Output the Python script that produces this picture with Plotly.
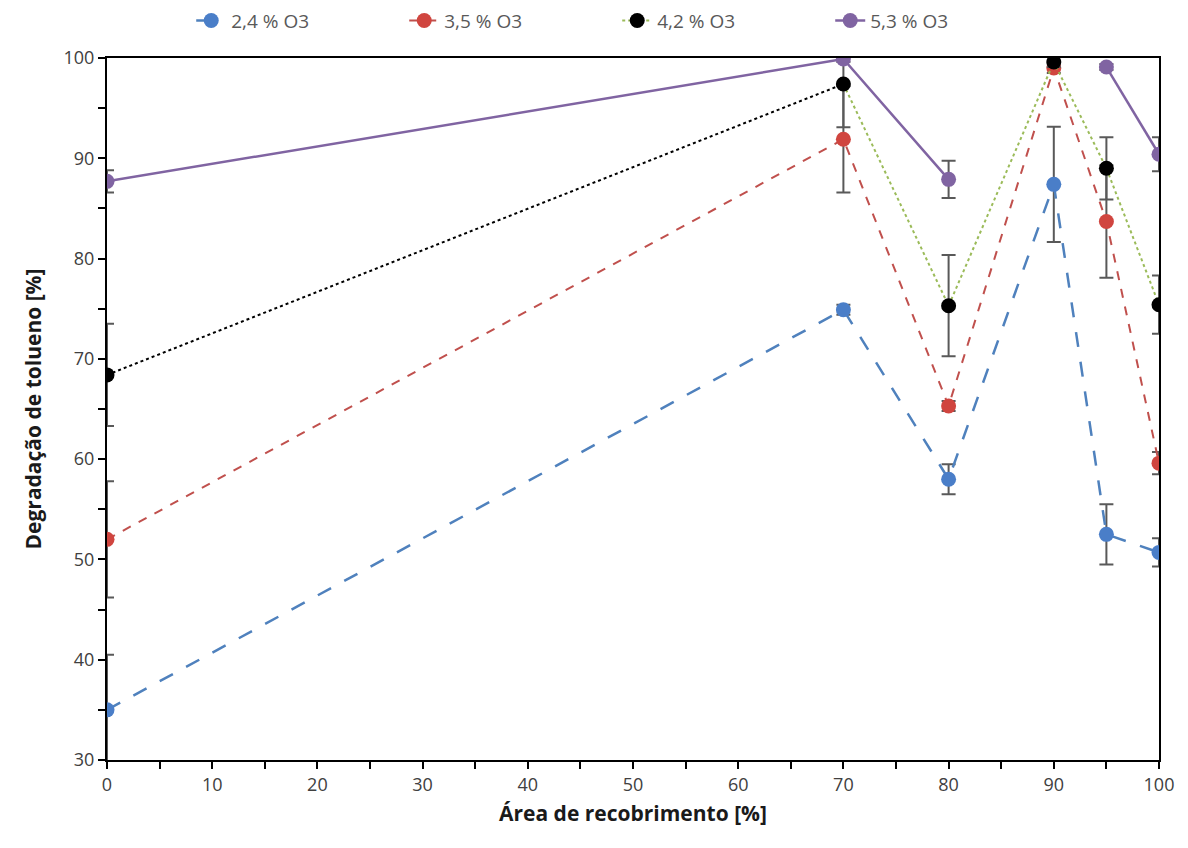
import plotly.graph_objects as go

area = [0, 70, 80, 90, 95, 100]

o24 = [35.0, 74.9, 58.0, 87.4, 52.5, 50.7]
o24_err = [5.5, 0.5, 1.5, 5.75, 3.0, 1.4]

o35 = [52.0, 91.9, 65.3, 99.0, 83.7, 59.6]
o35_err = [5.8, 5.3, 0.5, 0.5, 5.6, 1.1]

o42 = [68.4, 97.4, 75.3, 99.6, 89.0, 75.4]
o42_err = [5.1, 4.3, 5.05, 0.5, 3.1, 2.9]

o53 = [87.7, 99.9, 87.9, None, 99.1, 90.4]
o53_err = [1.1, 0.3, 1.85, 0, 0.3, 1.7]

names = ["2,4 % O3", "3,5 % O3", "4,2 % O3", "5,3 % O3"]
xticks = [0, 10, 20, 30, 40, 50, 60, 70, 80, 90, 100]
yticks = [30, 40, 50, 60, 70, 80, 90, 100]

ERR = "#595959"
MS = 15
FONT = "Open Sans, sans-serif"


def err(arr):
    return dict(type="data", array=arr, visible=True, color=ERR, thickness=2, width=7)


fig = go.Figure()

fig.add_trace(go.Scatter(
    x=area, y=o24, name=names[0], mode="lines+markers",
    line=dict(color="#4F81BD", width=2.5, dash="longdash"),
    marker=dict(color="#4A7EC8", size=MS), error_y=err(o24_err)))

fig.add_trace(go.Scatter(
    x=area, y=o35, name=names[1], mode="lines+markers",
    line=dict(color="#C0504D", width=2, dash="dash"),
    marker=dict(color="#D0453F", size=MS), error_y=err(o35_err)))

# 4,2 % O3: first segment drawn black dotted, the rest olive dotted
fig.add_trace(go.Scatter(
    x=area[:2], y=o42[:2], mode="lines", showlegend=False, hoverinfo="skip",
    line=dict(color="#000000", width=2, dash="dot")))
fig.add_trace(go.Scatter(
    x=area[1:], y=o42[1:], name=names[2], mode="lines+markers",
    line=dict(color="#9BBB59", width=2, dash="dot"),
    marker=dict(color="#000000", size=MS), error_y=err(o42_err[1:])))
fig.add_trace(go.Scatter(
    x=area[:1], y=o42[:1], mode="markers", showlegend=False,
    marker=dict(color="#000000", size=MS), error_y=err(o42_err[:1])))

fig.add_trace(go.Scatter(
    x=area, y=o53, name=names[3], mode="lines+markers", connectgaps=False,
    line=dict(color="#8064A2", width=2.5),
    marker=dict(color="#8064A2", size=MS), error_y=err(o53_err)))

axis_common = dict(
    showline=True, linecolor="black", linewidth=2, mirror=True,
    ticks="outside", ticklen=7, tickwidth=2, tickcolor="black",
    showgrid=False, zeroline=False,
    tickfont=dict(family=FONT, size=18, color="#404040"),
)

fig.update_xaxes(
    range=[0, 100], tickvals=xticks, ticktext=[str(v) for v in xticks],
    minor=dict(dtick=5, tick0=0, ticks="outside", ticklen=7, tickwidth=2, tickcolor="black"),
    title=dict(text="<b>Área de recobrimento [%]</b>",
               font=dict(family=FONT, size=21, color="#1a1a1a"),
               standoff=12),
    **axis_common)

fig.update_yaxes(
    range=[30, 100], tickvals=yticks, ticktext=[str(v) for v in yticks],
    minor=dict(dtick=5, tick0=30, ticks="outside", ticklen=7, tickwidth=2, tickcolor="black"),
    title=dict(text="<b>Degradação de tolueno [%]</b>",
               font=dict(family=FONT, size=21, color="#1a1a1a"),
               standoff=16),
    **axis_common)

fig.update_layout(
    width=1188, height=848,
    margin=dict(l=107, r=29, t=58, b=88, autoexpand=False),
    paper_bgcolor="white", plot_bgcolor="white",
    showlegend=True,
    legend=dict(orientation="h", x=0.485, xanchor="center",
                yref="container", y=0.998, yanchor="top",
                font=dict(family=FONT, size=19, color="#595959"),
                entrywidth=168, entrywidthmode="pixels", tracegroupgap=0),
)

fig.write_html("out.html")
